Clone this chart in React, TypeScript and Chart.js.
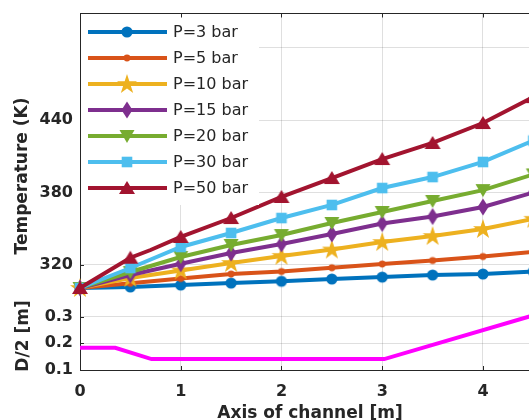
import React, { useEffect, useRef } from 'react';
import { Chart, registerables } from 'chart.js';
Chart.register(...registerables);

// ---- data ----
const xPos = [0, 0.5, 1, 1.5, 2, 2.5, 3, 3.5, 4, 4.5];
const xPos50 = [0, 0.5, 0.7, 1, 1.5, 2, 2.5, 3, 3.5, 4, 4.5];
const tP3 = [301, 301.8, 303.4, 305.0, 306.5, 308.4, 310.0, 311.7, 312.5, 314.6];
const tP5 = [301, 304.8, 308.8, 312.5, 314.6, 317.7, 320.8, 323.7, 327.0, 330.8];
const tP10 = [301, 309.2, 315.5, 321.7, 327.5, 332.8, 339.0, 344.0, 349.8, 358.2];
const tP15 = [301, 311.7, 321.0, 329.9, 337.4, 345.7, 354.4, 360.1, 368.0, 380.0];
const tP20 = [301, 314.2, 326.6, 336.6, 344.8, 354.8, 363.9, 373.0, 382.0, 395.0];
const tP30 = [301, 317.5, 334.9, 346.5, 358.9, 369.7, 383.7, 392.8, 405.3, 423.0];
const tP50 = [301, 326.0, 332.4, 343.2, 358.9, 376.3, 392.0, 407.7, 421.0, 437.5, 459.0];
const marker50 = [true, true, false, true, true, true, true, true, true, true, true];
const xD = [0, 0.35, 0.71, 3.02, 4.5];
const dHalf = [0.183, 0.183, 0.141, 0.141, 0.305];

const seriesLabels = ['P=3 bar', 'P=5 bar', 'P=10 bar', 'P=15 bar', 'P=20 bar', 'P=30 bar', 'P=50 bar'];
const seriesColors = ['#0072BD', '#D95319', '#EDB120', '#7E2F8E', '#77AC30', '#4DBEEE', '#A2142F'];
const seriesShapes = ['circle', 'dot', 'star', 'diamond', 'tdown', 'square', 'tup'];
const dColor = '#FF00FF';

const xTicks = [0, 1, 2, 3, 4];
const xTickLabels = ['0', '1', '2', '3', '4'];
const tTicks = [320, 380, 440, 500];
const tTickLabels = ['320', '380', '440', ''];
const dTicks = [0.1, 0.2, 0.3];
const dTickLabels = ['0.1', '0.2', '0.3'];

const xTitle = 'Axis of channel [m]';
const tTitle = 'Temperature (K)';
const dTitle = 'D/2 [m]';

const FONT = "'DejaVu Sans', sans-serif";
const INK = '#262626';
const GRID = 'rgba(38,38,38,0.15)';

function makeMarker(shape: string, color: string): HTMLCanvasElement {
  const S = 24;
  const c = document.createElement('canvas');
  c.width = S;
  c.height = S;
  const g = c.getContext('2d')!;
  const m = S / 2;
  g.fillStyle = color;
  g.beginPath();
  if (shape === 'circle') {
    g.arc(m, m, 5.6, 0, Math.PI * 2);
  } else if (shape === 'dot') {
    g.arc(m, m, 3.4, 0, Math.PI * 2);
  } else if (shape === 'star') {
    const R = 10.5, r = R * 0.382;
    for (let i = 0; i < 10; i++) {
      const a = -Math.PI / 2 + (i * Math.PI) / 5;
      const rr = i % 2 === 0 ? R : r;
      const px = m + rr * Math.cos(a), py = m + 0.5 + rr * Math.sin(a);
      if (i === 0) g.moveTo(px, py); else g.lineTo(px, py);
    }
    g.closePath();
  } else if (shape === 'diamond') {
    g.moveTo(m, m - 8.5);
    g.lineTo(m + 5.5, m);
    g.lineTo(m, m + 8.5);
    g.lineTo(m - 5.5, m);
    g.closePath();
  } else if (shape === 'tdown') {
    g.moveTo(m - 7.5, m - 6);
    g.lineTo(m + 7.5, m - 6);
    g.lineTo(m, m + 7);
    g.closePath();
  } else if (shape === 'tup') {
    g.moveTo(m, m - 7);
    g.lineTo(m + 8, m + 6);
    g.lineTo(m - 8, m + 6);
    g.closePath();
  } else if (shape === 'square') {
    g.rect(m - 5.3, m - 5.3, 10.6, 10.6);
  }
  g.fill();
  return c;
}

export default function App() {
  const ref = useRef<HTMLCanvasElement | null>(null);

  useEffect(() => {
    if (!ref.current) return;
    const markers = seriesShapes.map((s, i) => makeMarker(s, seriesColors[i]));
    const tSeries = [tP3, tP5, tP10, tP15, tP20, tP30, tP50];

    const datasets: any[] = tSeries.map((ys, i) => {
      const xs = i === 6 ? xPos50 : xPos;
      return {
        label: seriesLabels[i],
        data: xs.map((x, k) => ({ x, y: ys[k] })),
        yAxisID: 'yT',
        borderColor: seriesColors[i],
        backgroundColor: seriesColors[i],
        borderWidth: 4,
        pointStyle: markers[i],
        pointRadius: i === 6 ? marker50.map((v) => (v ? 5 : 0)) : 5,
        pointHoverRadius: 5,
        tension: 0,
        clip: false,
        order: 10 - i,
      };
    });
    datasets.push({
      label: dTitle,
      data: xD.map((x, k) => ({ x, y: dHalf[k] })),
      yAxisID: 'yD',
      borderColor: dColor,
      backgroundColor: dColor,
      borderWidth: 4,
      pointRadius: 0,
      tension: 0,
      clip: false,
      order: 20,
    });

    const tickFont = { family: FONT, size: 16, weight: 'bold' as const };

    const decor = {
      id: 'decor',
      afterDraw(chart: any) {
        const ctx = chart.ctx as CanvasRenderingContext2D;
        const a = chart.chartArea;
        const xs = chart.scales.x;
        const yT = chart.scales.yT;
        const yD = chart.scales.yD;
        ctx.save();
        ctx.strokeStyle = INK;
        ctx.lineWidth = 1;
        ctx.beginPath();
        xTicks.forEach((v) => {
          if (v === 0) return;
          const px = Math.round(xs.getPixelForValue(v)) + 0.5;
          ctx.moveTo(px, a.bottom);
          ctx.lineTo(px, a.bottom - 4);
        });
        tTicks.forEach((v) => {
          const py = Math.round(yT.getPixelForValue(v)) + 0.5;
          ctx.moveTo(a.left, py);
          ctx.lineTo(a.left + 4, py);
        });
        dTicks.forEach((v) => {
          const py = Math.round(yD.getPixelForValue(v)) + 0.5;
          ctx.moveTo(a.left, py);
          ctx.lineTo(a.left + 4, py);
        });
        ctx.stroke();

        // legend box
        const lx = a.left + 1;
        const ly = a.top;
        ctx.fillStyle = '#ffffff';
        ctx.fillRect(lx, ly, 178, 192);
        seriesLabels.forEach((lab, i) => {
          const cy = ly + 19 + i * 26;
          ctx.strokeStyle = seriesColors[i];
          ctx.lineWidth = 4;
          ctx.beginPath();
          ctx.moveTo(a.left + 8, cy);
          ctx.lineTo(a.left + 87, cy);
          ctx.stroke();
          const mk = markers[i];
          ctx.drawImage(mk, a.left + 47 - mk.width / 2, cy - mk.height / 2);
          ctx.fillStyle = INK;
          ctx.font = `16px ${FONT}`;
          ctx.textAlign = 'left';
          ctx.textBaseline = 'middle';
          ctx.fillText(lab, a.left + 93, cy + 1);
        });

        // top border with ticks
        ctx.strokeStyle = INK;
        ctx.lineWidth = 1;
        ctx.beginPath();
        const ty = Math.round(a.top) + 0.5;
        ctx.moveTo(a.left, ty);
        ctx.lineTo(a.right, ty);
        xTicks.forEach((v) => {
          if (v === 0) return;
          const px = Math.round(xs.getPixelForValue(v)) + 0.5;
          ctx.moveTo(px, ty);
          ctx.lineTo(px, ty + 4);
        });
        ctx.stroke();

        // titles
        ctx.fillStyle = INK;
        ctx.font = `bold 17px ${FONT}`;
        ctx.textAlign = 'center';
        ctx.textBaseline = 'alphabetic';
        ctx.fillText(xTitle, 310, 418);

        ctx.save();
        ctx.translate(27, 176);
        ctx.rotate(-Math.PI / 2);
        ctx.fillText(tTitle, 0, 0);
        ctx.restore();

        ctx.save();
        ctx.translate(28, 336);
        ctx.rotate(-Math.PI / 2);
        ctx.fillText(dTitle, 0, 0);
        ctx.restore();

        ctx.restore();
      },
    };

    const chart = new Chart(ref.current, {
      type: 'line',
      data: { datasets },
      options: {
        animation: false,
        responsive: true,
        maintainAspectRatio: false,
        layout: { autoPadding: false, padding: { top: 13, right: 0, left: 0, bottom: 0 } },
        plugins: { legend: { display: false }, tooltip: { enabled: false } },
        scales: {
          x: {
            type: 'linear',
            min: 0,
            max: 4.457,
            afterBuildTicks: (s: any) => {
              s.ticks = xTicks.map((v) => ({ value: v }));
            },
            afterFit: (s: any) => {
              s.height = 50;
              s.paddingLeft = 0;
              s.paddingRight = 0;
            },
            grid: { color: GRID, drawTicks: false },
            border: { color: INK, width: 1 },
            ticks: {
              autoSkip: false,
              maxRotation: 0,
              padding: 12,
              color: INK,
              font: tickFont,
              callback: (_v: any, i: number) => xTickLabels[i],
            },
          },
          yD: {
            type: 'linear',
            position: 'left',
            stack: 'v',
            stackWeight: 80,
            min: 0.1,
            max: 0.4,
            afterBuildTicks: (s: any) => {
              s.ticks = dTicks.map((v) => ({ value: v }));
            },
            afterFit: (s: any) => {
              s.width = 80;
              s.paddingTop = 0;
              s.paddingBottom = 0;
            },
            grid: { color: GRID, drawTicks: false },
            border: { color: INK, width: 1 },
            ticks: {
              autoSkip: false,
              padding: 7,
              color: INK,
              font: tickFont,
              callback: (_v: any, i: number) => dTickLabels[i],
            },
          },
          yT: {
            type: 'linear',
            position: 'left',
            stack: 'v',
            stackWeight: 277,
            min: 299.3,
            max: 528.6,
            afterBuildTicks: (s: any) => {
              s.ticks = tTicks.map((v) => ({ value: v }));
            },
            afterFit: (s: any) => {
              s.width = 80;
              s.paddingTop = 0;
              s.paddingBottom = 0;
            },
            grid: { color: GRID, drawTicks: false },
            border: { color: INK, width: 1 },
            ticks: {
              autoSkip: false,
              padding: 7,
              color: INK,
              font: tickFont,
              callback: (_v: any, i: number) => tTickLabels[i],
            },
          },
        } as any,
      },
      plugins: [decor],
    });
    return () => chart.destroy();
  }, []);

  return (
    <div style={{ position: 'fixed', left: 0, top: 0, width: 529, height: 420, background: '#fff' }}>
      <canvas ref={ref} />
    </div>
  );
}
